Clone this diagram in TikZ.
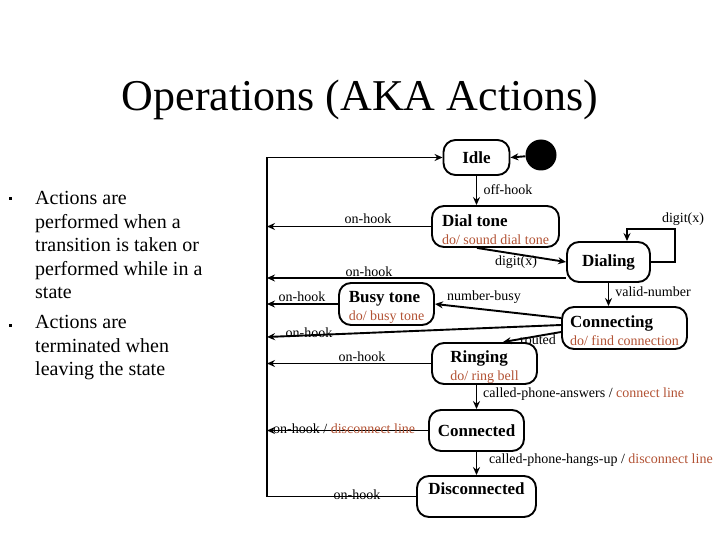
\documentclass[tikz,border=0pt]{standalone}
\usepackage{fontspec}
\setmainfont{Liberation Serif}
\usetikzlibrary{arrows.meta}
\definecolor{actbrown}{RGB}{178,82,52}
\tikzset{
  state/.style={draw, line width=1.9pt, rounded corners=12pt, inner sep=0pt, align=left, font=\fontsize{14}{18}\selectfont},
  lab/.style={font=\fontsize{14}{16}\selectfont, inner sep=0pt},
  trans/.style={line width=1.9pt, -{Stealth[length=8pt,width=7pt]}}
}
\newcommand{\sname}[1]{{\fontsize{17}{18}\selectfont\bfseries #1}}
\newcommand{\sfirst}[1]{\rule{0pt}{17.5pt}\sname{#1}}
\newcommand{\sdo}[1]{{\color{actbrown}#1}}

\begin{document}
\begin{tikzpicture}[x=1pt,y=-1pt]
  \useasboundingbox (0,0) rectangle (720,540);

  % title and bullets
  \node[font=\fontsize{44}{48}\selectfont, anchor=base] (title) at (360,111) {Operations (AKA Actions)};
  \node[fill, minimum size=3pt, inner sep=0pt] (dot1) at (10,199) {};
  \node[fill, minimum size=3pt, inner sep=0pt] (dot2) at (10,325) {};
  \node[anchor=base west, align=left, inner sep=0pt, font=\fontsize{20}{23.5}\selectfont] (item1) at (35,298.5)
    {Actions are\\performed when a\\transition is taken or\\performed while in a\\state};
  \node[anchor=base west, align=left, inner sep=0pt, font=\fontsize{20}{23.5}\selectfont] (item2) at (35,375.5)
    {Actions are\\terminated when\\leaving the state};

  % states
  \node[state, minimum width=66pt, minimum height=35pt] (idle) at (476.5,157.5) {\sname{Idle}};
  \node[circle, fill=black, minimum size=31pt, inner sep=0pt] (init) at (541,155) {};
  \node[state, minimum width=127pt, minimum height=41pt] (dial) at (495.5,226.5) {\sfirst{Dial tone}\\\sdo{do/ sound dial tone}};
  \node[state, minimum width=83pt, minimum height=40pt] (dialing) at (608.5,262) {\sname{Dialing}};
  \node[state, minimum width=95pt, minimum height=42pt] (busy) at (386.5,304) {\sfirst{Busy tone}\\\sdo{do/ busy tone}};
  \node[state, minimum width=125pt, minimum height=42pt] (connecting) at (624.5,328) {\sfirst{Connecting}\\\sdo{do/ find connection}};
  \node[state, minimum width=105pt, minimum height=41pt] (ringing) at (484.5,363.5) {\rule{0pt}{19pt}\sname{Ringing}\\\sdo{do/ ring bell}};
  \node[state, minimum width=95pt, minimum height=41pt] (connected) at (476.5,430.5) {\sname{Connected}};
  \node[state, minimum width=119pt, minimum height=41pt, text depth=15pt] (disc) at (476.5,496.5) {\sname{Disconnected}};

  % helper points
  \coordinate (bus) at (267,0);
  \coordinate (loop) at (675,229);
  \coordinate (b-conn) at (267,337);
  \coordinate (dl) at ([yshift=-16pt]dialing.west);

  % transitions
  \draw[trans] (init) -- (idle.east);
  \draw[trans] (idle.south) -- (idle.south |- dial.north);
  \draw[trans] (dial.west) -- (dial.west -| bus);
  \draw[trans] ([xshift=-18.5pt]dial.south) -- (dialing.west);
  \draw[trans] (dialing.east) -| (loop) -| ([xshift=18.5pt]dialing.north);
  \draw[trans] (dl) -- (dl -| bus);
  \draw[trans] (dialing.south) -- (dialing.south |- connecting.north);
  \draw[trans] (busy.west) -- (busy.west -| bus);
  \draw[trans] ([yshift=10pt]connecting.west) -- (busy.east);
  \draw[trans] ([yshift=3pt]connecting.west) -- (b-conn);
  \draw[trans] ([yshift=-4pt]connecting.west) -- ([xshift=18.5pt]ringing.north);
  \draw[trans] (ringing.west) -- (ringing.west -| bus);
  \draw[trans] (connected.north |- ringing.south) -- (connected.north);
  \draw[trans] (connected.west) -- (connected.west -| bus);
  \draw[trans] (connected.south) -- (disc.north);
  \draw[trans] (disc.west) -- (disc.west -| bus) |- (idle.west);

  % labels
  \node[lab] (l-off) at (508,190) {off-hook};
  \node[lab] (l-dial) at (368,219) {on-hook};
  \node[lab] (l-digit) at (516,262) {digit(x)};
  \node[lab] (l-loop) at (683,219) {digit(x)};
  \node[lab] (l-dialing) at (369,272) {on-hook};
  \node[lab] (l-busy) at (302,297) {on-hook};
  \node[lab] (l-nbusy) at (484,297) {number-busy};
  \node[lab] (l-valid) at (653,292) {valid-number};
  \node[lab] (l-conn) at (309,333) {on-hook};
  \node[lab] (l-routed) at (538,340) {routed};
  \node[lab] (l-ring) at (362,357) {on-hook};
  \node[lab, anchor=west] (l-answer) at (483,394) {called-phone-answers / \sdo{connect line}};
  \node[lab, anchor=west] (l-hang) at (273,429) {on-hook / \sdo{disconnect line}};
  \node[lab, anchor=west] (l-hangup) at (489,460) {called-phone-hangs-up / \sdo{disconnect line}};
  \node[lab] (l-disc) at (357,495) {on-hook};
\end{tikzpicture}
\end{document}
